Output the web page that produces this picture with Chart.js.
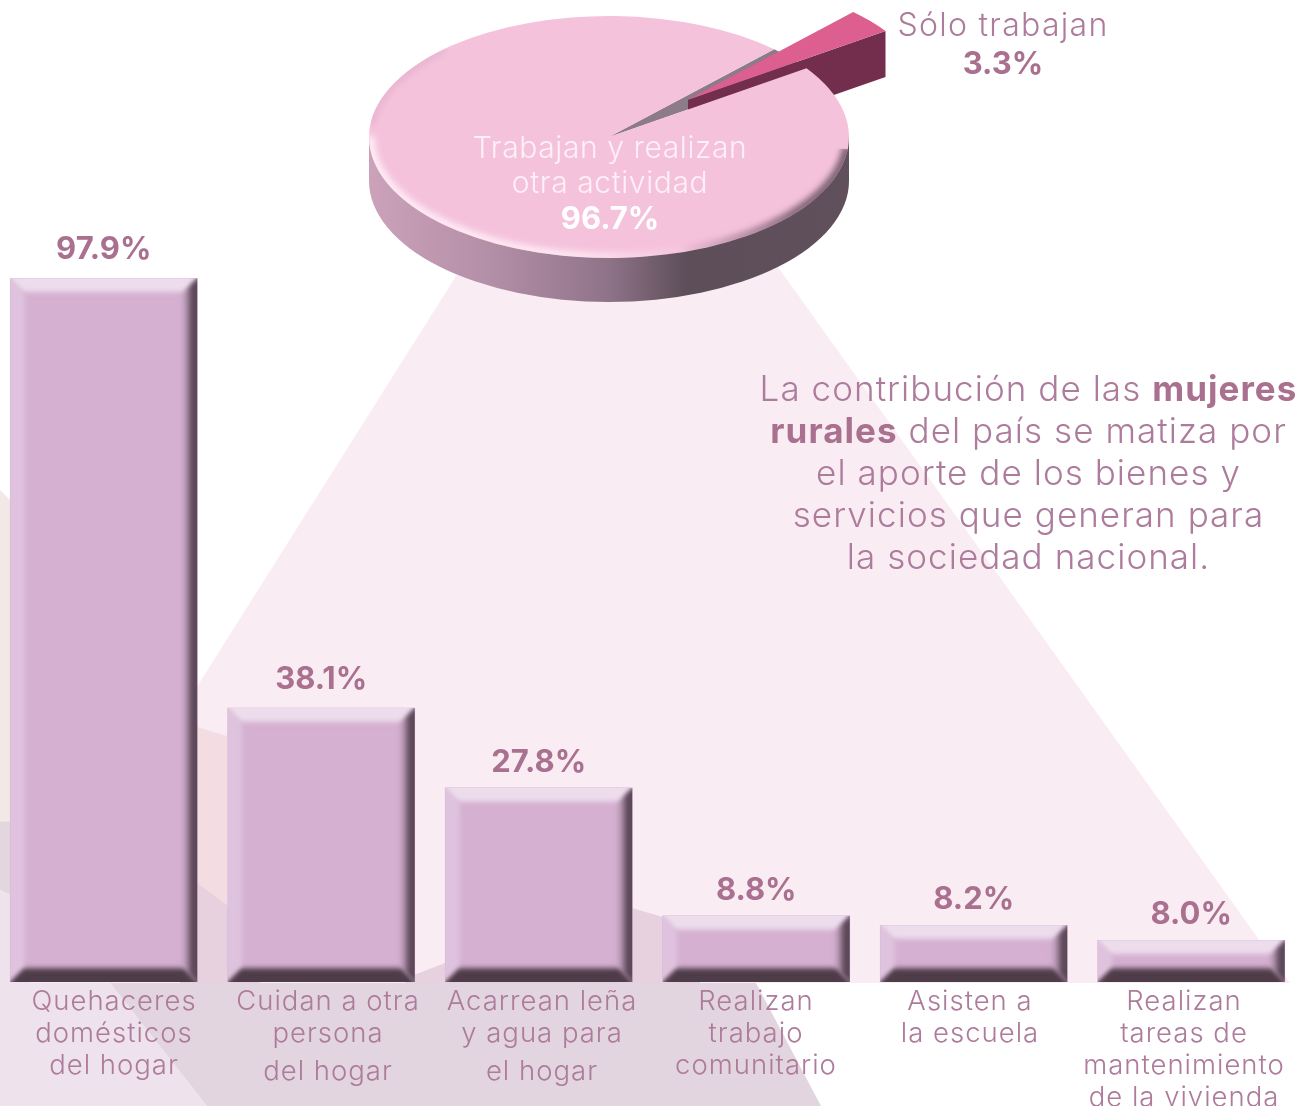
<!DOCTYPE html>
<html lang="es">
<head>
<meta charset="utf-8">
<title>Mujeres rurales</title>
<style>
    html, body { margin: 0; padding: 0; background: #fff; overflow: hidden; }
    #stage { position: relative; width: 1300px; height: 1106px; overflow: hidden; }
    canvas { display: block; position: absolute; top: 0; }
    #barChart { left: -5px; }
    #pieChart { left: 0; }
</style>
<script src="https://cdn.jsdelivr.net/npm/chart.js@4"></script>
</head>
<body>
<div id="stage">
    <canvas id="barChart" width="1305" height="1106"></canvas>
    <canvas id="pieChart" width="1218" height="320"></canvas>
</div>
<script>
// bars in the picture are not drawn strictly to their printed figure,
// so drawn heights and printed labels are read off separately
const categories = [
    ["Quehaceres", "domésticos", "del hogar"],
    ["Cuidan a otra", "persona", "del hogar"],
    ["Acarrean leña", "y agua para", "el hogar"],
    ["Realizan", "trabajo", "comunitario"],
    ["Asisten a", "la escuela"],
    ["Realizan", "tareas de", "mantenimiento", "de la vivienda"],
];
const barHeights = [97.9, 38.1, 27.0, 9.2, 7.9, 5.8];
const valueLabels = ["97.9%", "38.1%", "27.8%", "8.8%", "8.2%", "8.0%"];

const pieLabels = ["Sólo trabajan", "Trabajan y realizan otra actividad"];
const pieValues = [3.3, 96.7];
const pieValueLabels = ["3.3%", "96.7%"];

const noteLines = [
    [["La contribución de las ", false], ["mujeres", true]],
    [["rurales", true], [" del país se matiza por", false]],
    [["el aporte de los bienes y", false]],
    [["servicios que generan para", false]],
    [["la sociedad nacional.", false]],
];

const TEXT = "#ad7b9b";
const BOLD = "#a9718f";
const LIGHT_FONT = "300 27.5px Inter";
const PIE_FONT = "300 30px Inter";
const SIDE_FONT = "300 32px Inter";
const NOTE_FONT = "300 35px Inter";
const NOTE_BOLD = "700 35px Inter";
const BOLD_FONT = "700 31px Inter";

const BAR_SHIFT = 5; // bar canvas starts 5px left of the page
const labelCenters = [114, 328, 542, 756, 970, 1184];
const labelGaps = [29, 28, 25, 25, 26, 26];
const lineYs = [1002, 1034, 1066, 1098];

function text(ctx, str, x, y, font, color, spacing) {
    ctx.font = font;
    ctx.fillStyle = color;
    ctx.letterSpacing = spacing || "0px";
    ctx.textAlign = "center";
    ctx.textBaseline = "middle";
    ctx.fillText(str, x, y);
}

function poly(ctx, color, pts) {
    ctx.fillStyle = color;
    ctx.beginPath();
    pts.forEach((p, i) => (i ? ctx.lineTo(p[0], p[1]) : ctx.moveTo(p[0], p[1])));
    ctx.closePath();
    ctx.fill();
}

// decorative shapes behind the bars
const backdrop = {
    id: "backdrop",
    beforeDatasetsDraw(chart) {
        const ctx = chart.ctx;
        ctx.save();
        ctx.translate(BAR_SHIFT, 0);
        poly(ctx, "#f2e8e6", [[0, 490], [30, 520], [30, 830], [0, 830]]);
        poly(ctx, "#f9ecf3", [[610, 32], [1290, 983], [10, 983]]);
        poly(ctx, "#f3dde3", [[150, 716], [197, 727], [227, 736], [227, 915], [150, 860]]);
        poly(ctx, "#e8d1de", [[180, 870], [197, 883], [227, 905], [260, 983], [180, 983]]);
        poly(ctx, "#e8d1de", [[405, 983], [414, 975], [445, 963], [540, 932], [632, 908], [663, 917], [700, 945], [700, 983]]);
        poly(ctx, "#e3d6dd", [[0, 822], [30, 820], [30, 905], [0, 890]]);
        poly(ctx, "#eee2ec", [[0, 890], [30, 905], [30, 983], [0, 983]]);
        poly(ctx, "#eee2ec", [[0, 983], [110, 983], [207, 1106], [0, 1106]]);
        poly(ctx, "#e3d5df", [[110, 983], [756, 983], [821, 1106], [207, 1106]]);
        ctx.restore();
    },
    // bevelled edges over the flat bars
    afterDatasetsDraw(chart) {
        const ctx = chart.ctx;
        chart.getDatasetMeta(0).data.forEach((bar) => {
            const x0 = bar.x - bar.width / 2;
            const x1 = bar.x + bar.width / 2;
            const y0 = bar.y;
            const y1 = bar.base;
            const d = 18;
            const m = 6;
            const bevel = (pts, gx0, gy0, gx1, gy1, edge, stop) => {
                const g = ctx.createLinearGradient(gx0, gy0, gx1, gy1);
                g.addColorStop(0, edge);
                g.addColorStop(stop, edge);
                g.addColorStop(1, "rgba(213,176,209,0)");
                poly(ctx, g, pts);
            };
            ctx.save();
            ctx.beginPath();
            ctx.rect(x0, y0, x1 - x0, y1 - y0);
            ctx.clip();
            ctx.filter = "blur(2px)";
            bevel([[x0 - m, y0 - m], [x0 + d, y0 + d], [x0 + d, y1 - d], [x0 - m, y1 + m]], x0, 0, x0 + d, 0, "#dfc3de", 0.7);
            bevel([[x0 - m, y0 - m], [x1 + m, y0 - m], [x1 - d, y0 + d], [x0 + d, y0 + d]], 0, y0, 0, y0 + d, "#ecdcec", 0.65);
            bevel([[x1 + m, y0 - m], [x1 + m, y1 + m], [x1 - d, y1 - d], [x1 - d, y0 + d]], x1, 0, x1 - d, 0, "#5c4858", 0.3);
            bevel([[x0 - m, y1 + m], [x1 + m, y1 + m], [x1 - d, y1 - d], [x0 + d, y1 - d]], 0, y1, 0, y1 - d, "#4e3c49", 0.66);
            ctx.restore();
        });
    },
    afterDraw(chart) {
        const ctx = chart.ctx;
        const bars = chart.getDatasetMeta(0).data;
        ctx.save();
        ctx.translate(BAR_SHIFT, 0);
        bars.forEach((bar, i) => {
            text(ctx, valueLabels[i], bar.x - BAR_SHIFT, bar.y - labelGaps[i], BOLD_FONT, BOLD);
            categories[i].forEach((line, j) => {
                const y = (j === 2 && (i === 1 || i === 2)) ? 1072 : lineYs[j];
                text(ctx, line, labelCenters[i], y, LIGHT_FONT, TEXT, "1px");
            });
        });
        noteLines.forEach((runs, i) => {
            const y = 390.5 + i * 42;
            ctx.textBaseline = "middle";
            ctx.textAlign = "left";
            ctx.letterSpacing = "1.05px";
            let total = 0;
            runs.forEach((r) => {
                ctx.font = r[1] ? NOTE_BOLD : NOTE_FONT;
                total += ctx.measureText(r[0]).width;
            });
            let x = 1028.5 - total / 2;
            runs.forEach((r) => {
                ctx.font = r[1] ? NOTE_BOLD : NOTE_FONT;
                ctx.fillStyle = r[1] ? BOLD : TEXT;
                ctx.fillText(r[0], x, y);
                x += ctx.measureText(r[0]).width;
            });
        });
        ctx.restore();
    },
};

const barChart = new Chart(document.getElementById("barChart"), {
    type: "bar",
    data: {
        labels: categories,
        datasets: [{
            data: barHeights,
            backgroundColor: "#d5b0d1",
            borderWidth: 0,
            barThickness: 187,
        }],
    },
    options: {
        responsive: false,
        animation: false,
        events: [],
        layout: { padding: { left: 0, right: 0, top: 0, bottom: 124 } },
        plugins: { legend: { display: false }, tooltip: { enabled: false } },
        scales: {
            x: { display: false },
            y: { display: false, min: 0, max: 136.6 },
        },
    },
    plugins: [backdrop],
});

// the pie is flattened and given thickness so it reads as the tilted disc
const SQUASH = 0.504;
const DEPTH = 44;
const SLICE_DX = 79;
const SLICE_DY = -74;

const disc = {
    id: "disc",
    afterDatasetsUpdate(chart) {
        // pull the small slice away from the centre
        const slice = chart.getDatasetMeta(0).data[0];
        slice.x += SLICE_DX;
        slice.y += SLICE_DY;
    },
    beforeDatasetsDraw(chart) {
        const ctx = chart.ctx;
        const [slice, main] = chart.getDatasetMeta(0).data;
        const cx = main.x;
        const cy = main.y;
        const r = main.outerRadius;
        const ry = r * SQUASH;
        const sy = (y) => cy + (y - cy) * SQUASH;

        const wall = ctx.createLinearGradient(cx - r, 0, cx + r, 0);
        wall.addColorStop(0, "#cba2b9");
        wall.addColorStop(0.25, "#b48fa8");
        wall.addColorStop(0.5, "#8f7389");
        wall.addColorStop(0.66, "#5d4e59");
        wall.addColorStop(1, "#5f505b");
        ctx.fillStyle = wall;
        ctx.beginPath();
        ctx.ellipse(cx, cy + DEPTH, r, ry, 0, 0, Math.PI);
        ctx.lineTo(cx - r, cy);
        ctx.lineTo(cx + r, cy);
        ctx.closePath();
        ctx.fill();

        // inside of the gap left by the small slice
        ctx.fillStyle = "#8d7b87";
        ctx.beginPath();
        ctx.moveTo(cx, cy);
        ctx.ellipse(cx, cy, r, ry, 0, slice.startAngle, slice.endAngle);
        ctx.closePath();
        ctx.fill();

        // side of the small slice
        const ax = slice.x;
        const ay = sy(slice.y);
        const ex = slice.x + Math.cos(slice.endAngle) * r;
        const ey = sy(slice.y + Math.sin(slice.endAngle) * r);
        poly(ctx, "#722e4c", [[ax, ay], [ex, ey], [ex, ey + DEPTH + 2], [ax, ay + DEPTH + 2]]);

        ctx.save();
        ctx.translate(0, cy);
        ctx.scale(1, SQUASH);
        ctx.translate(0, -cy);
    },
    afterDatasetsDraw(chart) {
        const ctx = chart.ctx;
        ctx.restore();
        const main = chart.getDatasetMeta(0).data[1];
        const cx = main.x;
        const cy = main.y;
        const r = main.outerRadius;
        const ry = r * SQUASH;

        // soft rim light and shade on the top face
        ctx.save();
        ctx.beginPath();
        ctx.ellipse(cx, cy, r, ry, 0, 0.1, 4.0);
        ctx.lineTo(cx, cy);
        ctx.closePath();
        ctx.clip();
        ctx.filter = "blur(3px)";
        const rim = (a0, a1, color, w) => {
            ctx.strokeStyle = color;
            ctx.lineWidth = w;
            ctx.beginPath();
            ctx.ellipse(cx, cy, r - 1, ry - 1, 0, a0, a1);
            ctx.stroke();
        };
        const light = ctx.createLinearGradient(cx - r, 0, cx + 90, 0);
        light.addColorStop(0, "rgba(255,240,247,0.95)");
        light.addColorStop(0.6, "rgba(255,240,247,0.85)");
        light.addColorStop(1, "rgba(255,240,247,0)");
        rim(1.2, 3.15, light, 9);
        rim(3.25, 3.95, "rgba(170,120,150,0.2)", 6);
        const shade = ctx.createLinearGradient(cx + 70, 0, cx + r, 0);
        shade.addColorStop(0, "rgba(85,65,80,0)");
        shade.addColorStop(0.7, "rgba(85,65,80,0.75)");
        shade.addColorStop(1, "rgba(85,65,80,0.8)");
        rim(0.08, 1.4, shade, 9);
        ctx.restore();

        // text
        text(ctx, "Trabajan y realizan", 610, 149, PIE_FONT, "#fdf0f6", "0.6px");
        text(ctx, "otra actividad", 610, 184, PIE_FONT, "#fdf0f6", "0.6px");
        text(ctx, pieValueLabels[1], 610, 220, BOLD_FONT, "#ffffff");
        text(ctx, pieLabels[0], 1003, 26, SIDE_FONT, TEXT, "1.3px");
        text(ctx, pieValueLabels[0], 1003, 65, BOLD_FONT, BOLD);
    },
};

const pieChart = new Chart(document.getElementById("pieChart"), {
    type: "pie",
    data: {
        labels: pieLabels,
        datasets: [{
            data: pieValues,
            backgroundColor: ["#dd5f90", "#f5c2dc"],
            borderWidth: 0,
            clip: false,
        }],
    },
    options: {
        responsive: false,
        animation: false,
        events: [],
        radius: 240,
        rotation: 43.5,
        layout: { padding: { left: 0, right: 0, top: 0, bottom: 46 } },
        plugins: { legend: { display: false }, tooltip: { enabled: false } },
    },
    plugins: [disc],
});
</script>
</body>
</html>
